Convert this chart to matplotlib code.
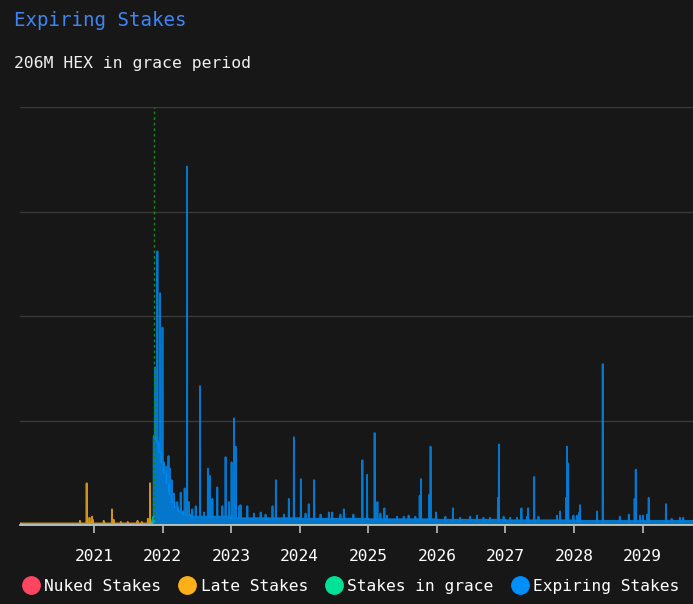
import numpy as np
import pandas as pd
import matplotlib.pyplot as plt
from matplotlib.lines import Line2D

# ---- data (units: one gridline step = 1) ----
start_day = "2019-12-03"
end_day = "2029-12-31"
today = "2021-11-14"
tick_years = ["2021", "2022", "2023", "2024", "2025", "2026", "2027", "2028", "2029"]

# nuked stakes: tiny sliver at the very start
nuked_dates = ["2019-12-03", "2019-12-12"]
nuked_vals = [0.012, 0.0]

# late stakes: flat base + spikes
late_base_dates = ["2019-12-03", "2021-11-14"]
late_base_vals = [0.015, 0.0]
late_spike_dates = ["2020-10-17", "2020-11-22", "2020-12-07", "2020-12-20", "2020-12-25",
                    "2021-02-21", "2021-04-06", "2021-04-15", "2021-05-23", "2021-06-29",
                    "2021-08-20", "2021-09-12", "2021-10-14", "2021-10-26"]
late_spike_vals = [0.04, 0.40, 0.07, 0.08, 0.05,
                   0.04, 0.15, 0.05, 0.03, 0.03,
                   0.04, 0.03, 0.06, 0.40]

# stakes in grace
grace_dates = ["2021-10-30", "2021-11-03", "2021-11-07", "2021-11-10", "2021-11-13", "2021-11-15"]
grace_vals = [0.01, 0.03, 0.05, 0.07, 0.08, 0.0]

# expiring stakes: step base + spikes
exp_base_dates = ["2021-11-14", "2021-11-28", "2021-12-12", "2021-12-26", "2022-01-09",
                  "2022-01-23", "2022-02-06", "2022-02-20", "2022-03-06", "2022-03-25",
                  "2022-04-20", "2022-06-01", "2023-01-01", "2024-01-01", "2025-01-01",
                  "2026-01-01", "2027-01-01", "2028-01-01"]
exp_base_vals = [0.85, 0.8, 0.7, 0.6, 0.5,
                 0.4, 0.3, 0.22, 0.17, 0.13,
                 0.10, 0.08, 0.065, 0.06, 0.055,
                 0.05, 0.045, 0.04]
exp_spike_dates = [
    "2021-11-21", "2021-12-04", "2021-12-18", "2021-12-31", "2022-01-21", "2022-02-01",
    "2022-02-08", "2022-02-18", "2022-03-02", "2022-03-20", "2022-04-07", "2022-04-28",
    "2022-05-11", "2022-05-21", "2022-06-08", "2022-06-26", "2022-07-19", "2022-08-09",
    "2022-08-30", "2022-09-10", "2022-09-23", "2022-10-19", "2022-11-15", "2022-12-02",
    "2022-12-20", "2023-01-03", "2023-01-16", "2023-01-25", "2023-02-11", "2023-02-20",
    "2023-03-28", "2023-05-02", "2023-06-07", "2023-07-03", "2023-08-09", "2023-08-27",
    "2023-10-09", "2023-11-04", "2023-12-01", "2024-01-07", "2024-02-01", "2024-02-18",
    "2024-03-18", "2024-04-21", "2024-06-04", "2024-06-22", "2024-08-05", "2024-08-23",
    "2024-10-13", "2024-11-30", "2024-12-25", "2025-02-03", "2025-02-18", "2025-03-06",
    "2025-03-27", "2025-04-10", "2025-06-03", "2025-07-08", "2025-08-03", "2025-09-08",
    "2025-10-01", "2025-10-08", "2025-11-21", "2025-11-28", "2025-12-27", "2026-02-15",
    "2026-03-27", "2026-05-05", "2026-06-27", "2026-08-02", "2026-09-06", "2026-10-11",
    "2026-11-22", "2026-11-27", "2026-12-22", "2027-01-26", "2027-03-03", "2027-03-27",
    "2027-04-25", "2027-05-02", "2027-06-03", "2027-06-26", "2027-10-02", "2027-10-19",
    "2027-11-20", "2027-11-25", "2027-12-01", "2027-12-29", "2028-01-16", "2028-01-30",
    "2028-02-02", "2028-05-03", "2028-06-02", "2028-09-01", "2028-10-19", "2028-11-19",
    "2028-11-25", "2028-12-18", "2029-01-02", "2029-01-25", "2029-02-02", "2029-05-05",
    "2029-06-04", "2029-07-18", "2029-08-05"]
exp_spike_vals = [
    1.51, 2.62, 2.22, 1.89, 0.56, 0.66,
    0.54, 0.43, 0.30, 0.22, 0.31, 0.35,
    3.43, 0.22, 0.15, 0.18, 1.33, 0.12,
    0.54, 0.47, 0.25, 0.36, 0.18, 0.65,
    0.22, 0.60, 1.02, 0.75, 0.18, 0.19,
    0.18, 0.11, 0.12, 0.10, 0.18, 0.43,
    0.10, 0.25, 0.84, 0.44, 0.11, 0.20,
    0.43, 0.10, 0.12, 0.12, 0.10, 0.15,
    0.10, 0.62, 0.48, 0.88, 0.22, 0.11,
    0.16, 0.09, 0.08, 0.08, 0.09, 0.08,
    0.28, 0.44, 0.29, 0.75, 0.12, 0.08,
    0.16, 0.07, 0.08, 0.09, 0.07, 0.07,
    0.26, 0.77, 0.08, 0.07, 0.07, 0.16,
    0.08, 0.16, 0.46, 0.08, 0.09, 0.13,
    0.26, 0.75, 0.59, 0.09, 0.09, 0.12,
    0.19, 0.13, 1.54, 0.08, 0.10, 0.25,
    0.53, 0.09, 0.09, 0.10, 0.26, 0.20,
    0.06, 0.07, 0.07]

legend_names = ["Nuked Stakes", "Late Stakes", "Stakes in grace", "Expiring Stakes"]
colors = ["#FF4560", "#FEB019", "#00E396", "#008FFB"]

# ---- build daily series ----
days = pd.date_range(start_day, end_day, freq="D")


def steps(dates, vals):
    out = np.zeros(len(days))
    d = pd.to_datetime(dates)
    for i in range(len(d)):
        a = days.searchsorted(d[i])
        b = days.searchsorted(d[i + 1]) if i + 1 < len(d) else len(days)
        out[a:b] = vals[i]
    return out


def add_spikes(arr, dates, vals):
    idx = days.searchsorted(pd.to_datetime(dates))
    for i, v in zip(idx, vals):
        arr[i] = max(arr[i], v)
    return arr


nuked = steps(nuked_dates, nuked_vals)
late = add_spikes(steps(late_base_dates, late_base_vals), late_spike_dates, late_spike_vals)
grace = steps(grace_dates, grace_vals)
expiring = add_spikes(steps(exp_base_dates, exp_base_vals), exp_spike_dates, exp_spike_vals)

# ---- figure ----
bg = "#171717"
fig = plt.figure(figsize=(6.93, 6.04), dpi=100, facecolor=bg)
ax = fig.add_axes([20 / 693, 79 / 604, 673 / 693, 418 / 604])
ax.set_facecolor(bg)

for series, c in zip([nuked, late, grace, expiring], colors):
    ax.fill_between(days, 0, series, color=c, alpha=0.8, lw=0)
    ax.plot(days, series, color=c, lw=1.3, alpha=0.8)

ax.axvline(pd.Timestamp(today), color="#13891a", lw=1, ls=(0, (2, 2)))

ax.set_ylim(0, 4)
ax.set_yticks([1, 2, 3, 4])
ax.yaxis.grid(True, color="#3a3a3a", lw=1)
ax.set_axisbelow(True)
ax.tick_params(axis="y", left=False, labelleft=False)

x0 = pd.Timestamp("2019-12-03")
x1 = pd.Timestamp("2021-01-01") + pd.Timedelta(days=3190)
ax.set_xlim(x0, x1)
ax.set_xticks(pd.to_datetime([y + "-01-01" for y in tick_years]))
ax.set_xticklabels(tick_years)
ax.tick_params(axis="x", colors="#b0b0b0", length=6, width=1.3, pad=11,
               labelcolor="#ffffff", labelsize=11.7)
for lab in ax.get_xticklabels():
    lab.set_family("DejaVu Sans Mono")

for s in ["top", "right", "left"]:
    ax.spines[s].set_visible(False)
ax.spines["bottom"].set_color("#c0c0c0")
ax.spines["bottom"].set_linewidth(1.3)

# titles
fig.text(14 / 693, 1 - 26.5 / 604, "Expiring Stakes", color="#3f84f2", fontsize=13.8,
         family="DejaVu Sans Mono", va="baseline", ha="left")
fig.text(14 / 693, 1 - 68 / 604, "206M HEX in grace period", color="#f0f0f0", fontsize=11.8,
         family="DejaVu Sans Mono", va="baseline", ha="left")

# legend
dot_x = [30.7, 187, 333.5, 519.5]
text_x = [44.3, 201, 347.3, 533.3]
for name, c, dx, tx in zip(legend_names, colors, dot_x, text_x):
    fig.add_artist(Line2D([dx / 693], [1 - 584.7 / 604], marker="o", markersize=12.5,
                          color=c, ls="none", transform=fig.transFigure))
    fig.text(tx / 693, 1 - 586.5 / 604, name, color="#ffffff", fontsize=11.7,
             family="DejaVu Sans Mono", va="center", ha="left")

fig.savefig("out.png", dpi=100, facecolor=bg)
